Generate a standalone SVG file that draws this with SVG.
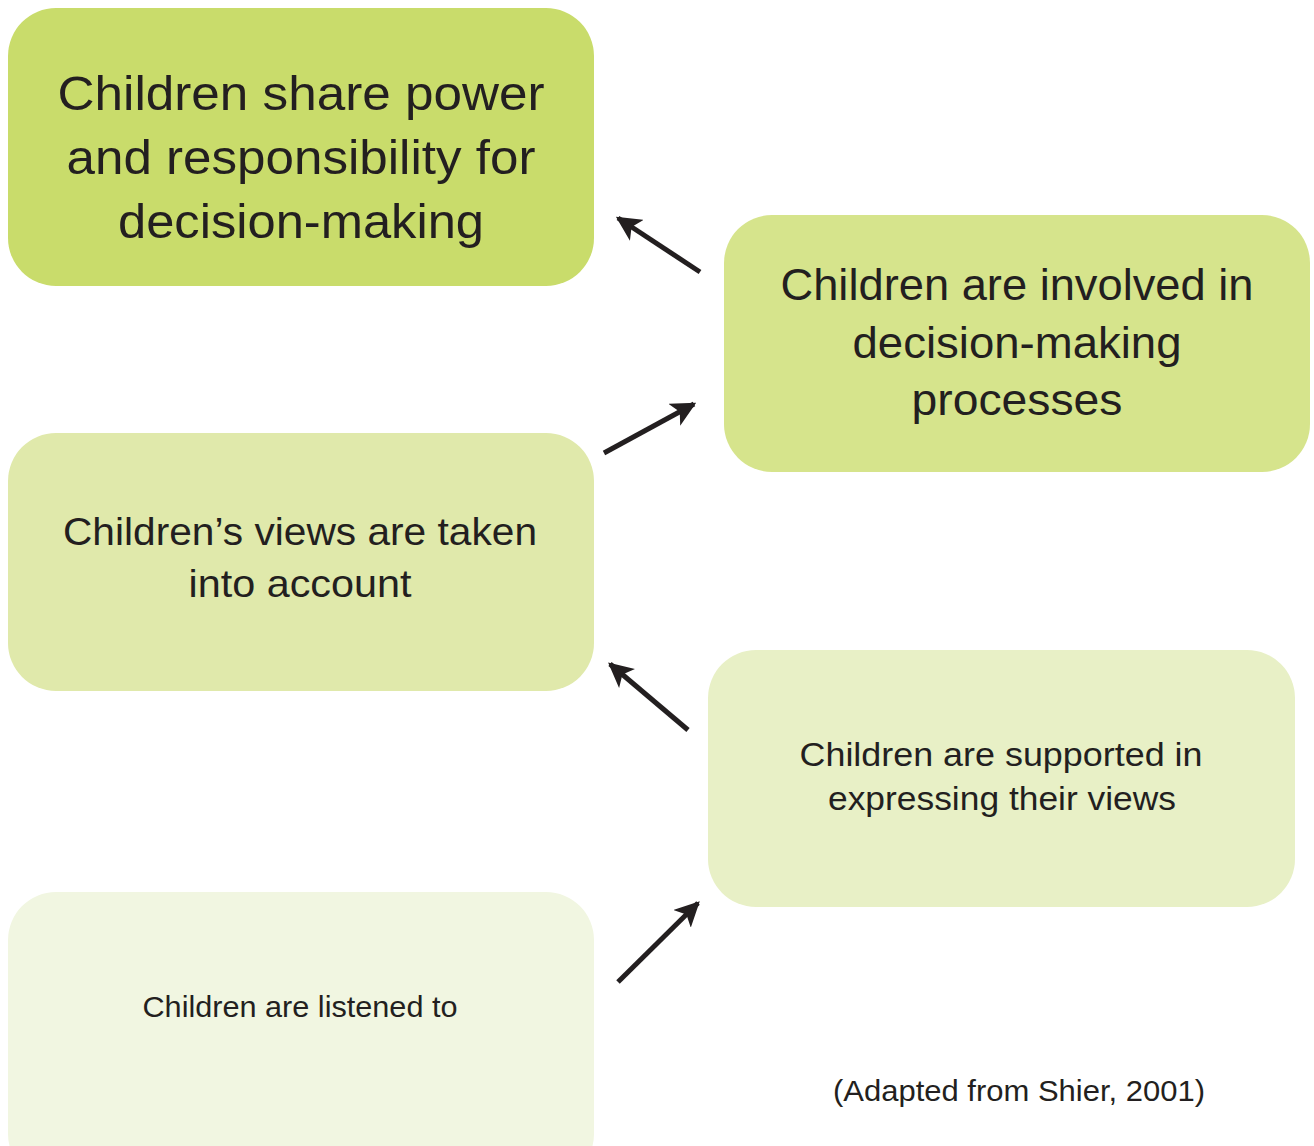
<svg xmlns="http://www.w3.org/2000/svg" width="1314" height="1146" viewBox="0 0 1314 1146">
<style>
text{font-family:"Liberation Sans",Arial,sans-serif;fill:#231f20;text-anchor:middle}
.c{stroke:#231f20;stroke-width:5;fill:none}
</style>
<defs>
<marker id="ah" viewBox="0 0 10 10" refX="9" refY="5" markerWidth="5" markerHeight="5" orient="auto" markerUnits="strokeWidth">
<path d="M0,0 L10,5 L0,10 L2.5,5 Z" fill="#231f20"/>
</marker>
</defs>
<rect width="1314" height="1146" fill="#fff"/>
<g id="n1">
<rect x="8" y="8" width="586" height="278" rx="48" fill="#c9dc6b"/>
<text x="301" y="110" font-size="49" textLength="487" lengthAdjust="spacingAndGlyphs">Children share power</text>
<text x="301" y="174" font-size="49" textLength="469" lengthAdjust="spacingAndGlyphs">and responsibility for</text>
<text x="301" y="238" font-size="49" textLength="366" lengthAdjust="spacingAndGlyphs">decision-making</text>
</g>
<g id="n2">
<rect x="724" y="215" width="586" height="257" rx="48" fill="#d6e48c"/>
<text x="1017" y="300" font-size="45" textLength="473" lengthAdjust="spacingAndGlyphs">Children are involved in</text>
<text x="1017" y="358" font-size="45" textLength="329" lengthAdjust="spacingAndGlyphs">decision-making</text>
<text x="1017" y="415" font-size="45" textLength="211" lengthAdjust="spacingAndGlyphs">processes</text>
</g>
<g id="n3">
<rect x="8" y="433" width="586" height="258" rx="48" fill="#e0e9ab"/>
<text x="300" y="545" font-size="39.5" textLength="474" lengthAdjust="spacingAndGlyphs">Children’s views are taken</text>
<text x="300" y="597" font-size="39.5" textLength="223" lengthAdjust="spacingAndGlyphs">into account</text>
</g>
<g id="n4">
<rect x="708" y="650" width="587" height="257" rx="48" fill="#e8f0c6"/>
<text x="1001" y="766" font-size="34" textLength="403" lengthAdjust="spacingAndGlyphs">Children are supported in</text>
<text x="1002" y="810" font-size="34" textLength="348" lengthAdjust="spacingAndGlyphs">expressing their views</text>
</g>
<g id="n5">
<rect x="8" y="892" width="586" height="290" rx="48" fill="#f1f6e1"/>
<text x="300" y="1017" font-size="29" textLength="315" lengthAdjust="spacingAndGlyphs">Children are listened to</text>
</g>
<text x="1019" y="1101" font-size="29" textLength="372" lengthAdjust="spacingAndGlyphs">(Adapted from Shier, 2001)</text>
<g id="connectors">
<line class="c" x1="700" y1="272" x2="618" y2="218" marker-end="url(#ah)"/>
<line class="c" x1="604" y1="453" x2="694" y2="404" marker-end="url(#ah)"/>
<line class="c" x1="688" y1="730" x2="610" y2="664" marker-end="url(#ah)"/>
<line class="c" x1="618" y1="982" x2="698" y2="903" marker-end="url(#ah)"/>
</g>
</svg>
